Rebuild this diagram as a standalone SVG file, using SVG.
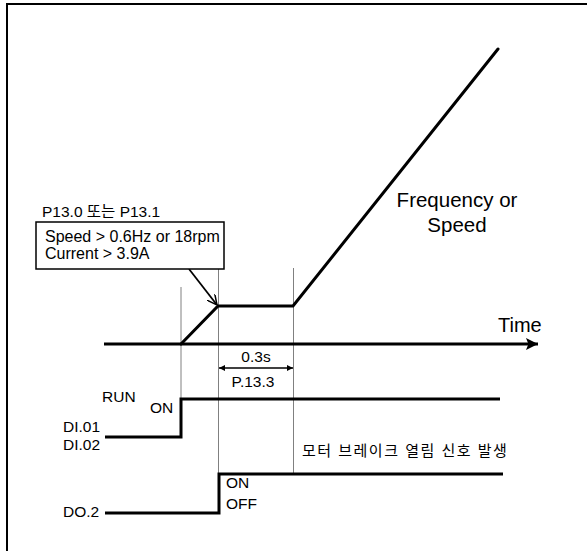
<svg xmlns="http://www.w3.org/2000/svg" width="587" height="551" viewBox="0 0 587 551">
<style>
.t{font-family:"Liberation Sans",Arial,sans-serif;fill:#000}
.k{font-family:"Liberation Sans","Noto Sans CJK KR",sans-serif}
.thick{stroke:#000;stroke-width:3;fill:none}
.thin{stroke:#808080;stroke-width:1;fill:none}
</style>
<defs>
<marker id="ah" viewBox="0 0 10 10" refX="10" refY="5" markerWidth="6" markerHeight="6" orient="auto-start-reverse" markerUnits="userSpaceOnUse">
<path d="M0,0 L10,5 L0,10 z" fill="#000"/>
</marker>
<marker id="ax" viewBox="0 0 10 10" refX="10" refY="5" markerWidth="14" markerHeight="12" orient="auto" markerUnits="userSpaceOnUse">
<path d="M0,0 L10,5 L0,10 L2,5 z" fill="#000"/>
</marker>
<marker id="open" viewBox="0 0 10 10" refX="10" refY="5" markerWidth="10" markerHeight="10" orient="auto" markerUnits="userSpaceOnUse">
<path d="M0,0 L10,5 L0,10" fill="none" stroke="#000" stroke-width="1.5"/>
</marker>
</defs>
<rect width="587" height="551" fill="#fff"/>
<rect x="7" y="4" width="620" height="600" fill="none" stroke="#000" stroke-width="2"/>
<g id="guides">
<line class="thin" x1="181" y1="287" x2="181" y2="399"/>
<line class="thin" x1="218.5" y1="269" x2="218.5" y2="474"/>
<line class="thin" x1="293.5" y1="268" x2="293.5" y2="474"/>
</g>
<g id="connectors">
<line class="thick" x1="104" y1="344" x2="538" y2="344" marker-end="url(#ax)"/>
<polyline class="thick" points="181,344 218,306 293,306 498,49" stroke-linecap="round"/>
<line x1="189" y1="269" x2="217" y2="305" stroke="#000" stroke-width="1.8" marker-end="url(#open)"/>
<line x1="219" y1="368" x2="293" y2="368" stroke="#000" stroke-width="1.5" marker-start="url(#ah)" marker-end="url(#ah)"/>
<polyline class="thick" points="105,437 181,437 181,399 500,399"/>
<polyline class="thick" points="105,513 219,513 219,474 503,474"/>
</g>
<g id="condition-box">
<text class="t" x="42" y="217" font-size="15.5">P13.0 <tspan class="k">또는</tspan> P13.1</text>
<rect x="36" y="222" width="188" height="47" fill="#fff" stroke="#000" stroke-width="1.5"/>
<text class="t" x="45" y="242" font-size="16">Speed &gt; 0.6Hz or 18rpm</text>
<text class="t" x="45" y="259" font-size="16">Current &gt; 3.9A</text>
</g>
<g id="labels">
<text class="t" x="457" y="207" font-size="20.5" text-anchor="middle">Frequency or</text>
<text class="t" x="457" y="232" font-size="20.5" text-anchor="middle">Speed</text>
<text class="t" x="498" y="332" font-size="20">Time</text>
<text class="t" x="256" y="362" font-size="15.5" text-anchor="middle">0.3s</text>
<text class="t" x="253" y="387" font-size="15.5" text-anchor="middle">P.13.3</text>
<text class="t" x="102" y="402" font-size="15.5">RUN</text>
<text class="t" x="150" y="413" font-size="15.5">ON</text>
<text class="t" x="63" y="432" font-size="15.5">DI.01</text>
<text class="t" x="63" y="450" font-size="15.5">DI.02</text>
<text class="t" x="63" y="517" font-size="15.5">DO.2</text>
<text class="t" x="226" y="488" font-size="15.5">ON</text>
<text class="t" x="226" y="509" font-size="15.5">OFF</text>
<text class="t k" x="302" y="456" font-size="15" letter-spacing="1.5" fill="#333">모터 브레이크 열림 신호 발생</text>
</g>
</svg>
